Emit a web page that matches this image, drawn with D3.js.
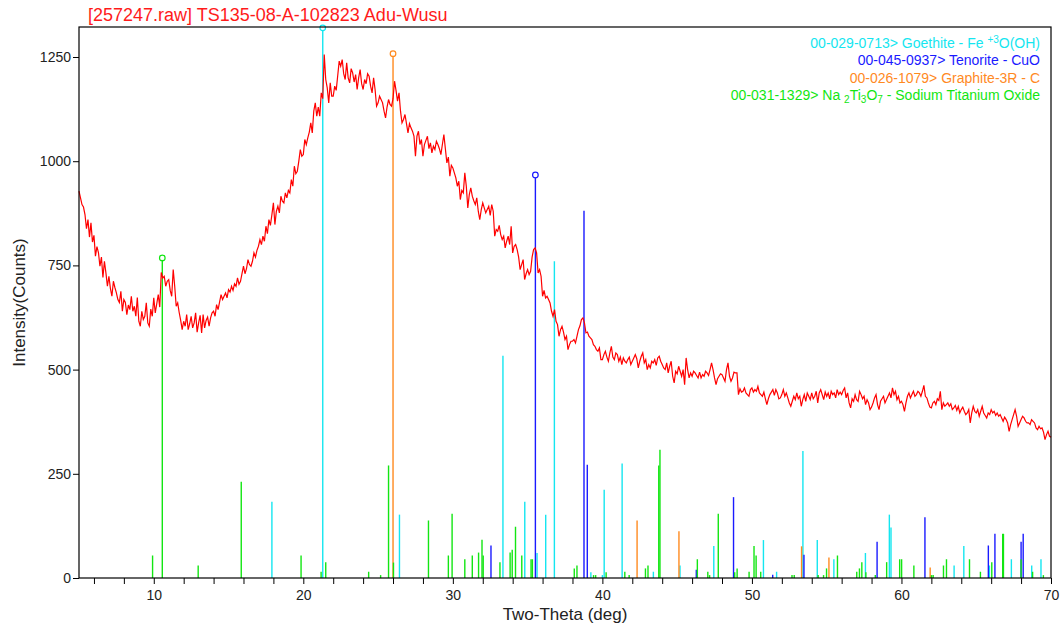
<!DOCTYPE html>
<html>
<head>
<meta charset="utf-8">
<script src="https://cdn.jsdelivr.net/npm/d3@7"></script>
<style>
	body { margin: 0; background: #fff; }
	svg { display: block; font-family: "Liberation Sans", Arial, sans-serif; }
	.axis text { font-size: 14px; fill: #222; }
	.legend text { font-size: 14px; }
</style>
</head>
<body>
<svg id="chart" width="1063" height="628"></svg>
<script>
const width = 1063,
	height = 628;

const titleText = "[257247.raw] TS135-08-A-102823 Adu-Wusu";
const xLabel = "Two-Theta (deg)",
	yLabel = "Intensity(Counts)";

// scan, 5.0 to 70.0 deg in 0.1 deg steps (one row per degree)
const thetaStart = 5,
	thetaStep = 0.1;
const counts = [
	928, 912, 896, 890, 872, 838, 860, 818, 852, 806,
	822, 772, 795, 781, 748, 770, 721, 760, 732, 700,
	724, 695, 676, 712, 697, 684, 668, 661, 688, 640,
	668, 661, 632, 655, 644, 676, 640, 652, 628, 673,
	616, 604, 640, 620, 628, 660, 612, 604, 645, 628,
	672, 636, 658, 680, 650, 733, 720, 724, 700, 712,
	716, 690, 676, 740, 700, 652, 660, 637, 618, 596,
	616, 604, 632, 596, 610, 628, 600, 612, 636, 590,
	612, 630, 588, 632, 600, 618, 626, 604, 624, 636,
	640, 628, 656, 644, 662, 680, 668, 676, 684, 672,
	692, 686, 700, 690, 706, 700, 720, 705, 712, 730,
	748, 730, 742, 764, 752, 748, 760, 780, 770, 786,
	796, 812, 800, 820, 808, 844, 826, 860, 846, 872,
	900, 848, 880, 892, 876, 916, 904, 900, 924, 912,
	930, 924, 956, 940, 988, 970, 976, 1000, 1028, 1012,
	1016, 1052, 1040, 1056, 1070, 1092, 1068, 1120, 1140, 1108,
	1130, 1108, 1164, 1150, 1256, 1196, 1176, 1140, 1188, 1156,
	1156, 1180, 1170, 1205, 1240, 1228, 1244, 1210, 1196, 1236,
	1200, 1188, 1222, 1212, 1190, 1208, 1172, 1200, 1220, 1186,
	1172, 1196, 1186, 1210, 1204, 1180, 1164, 1200, 1172, 1132,
	1140, 1156, 1148, 1140, 1120, 1104, 1130, 1148, 1136, 1132,
	1150, 1192, 1170, 1144, 1164, 1120, 1092, 1100, 1112, 1090,
	1068, 1090, 1080, 1072, 1060, 1012, 1060, 1072, 1040, 1052,
	1012, 1040, 1050, 1060, 1030, 1044, 1020, 1036, 1028, 1048,
	1040, 1030, 1016, 1040, 1064, 1030, 996, 1010, 964, 990,
	984, 972, 960, 940, 952, 908, 930, 924, 972, 940,
	888, 920, 936, 916, 905, 896, 912, 880, 860, 884,
	900, 888, 876, 884, 892, 870, 896, 880, 820, 836,
	832, 846, 824, 812, 820, 792, 808, 820, 800, 844,
	780, 796, 800, 788, 770, 740, 752, 764, 716, 730,
	740, 728, 736, 770, 788, 792, 780, 732, 740, 724,
	676, 690, 672, 676, 668, 660, 640, 628, 644, 616,
	608, 580, 596, 604, 590, 572, 580, 548, 560, 568,
	568, 572, 564, 580, 596, 605, 620, 624, 612, 588,
	590, 580, 576, 572, 560, 556, 548, 544, 552, 524,
	524, 536, 544, 530, 520, 540, 556, 530, 524, 540,
	536, 520, 530, 512, 528, 520, 516, 524, 530, 512,
	520, 528, 536, 526, 504, 520, 532, 540, 516, 524,
	500, 512, 504, 520, 516, 524, 510, 528, 532, 520,
	512, 504, 500, 516, 492, 508, 520, 484, 468, 496,
	490, 508, 496, 484, 500, 464, 528, 500, 480, 492,
	484, 496, 492, 486, 480, 494, 480, 488, 484, 496,
	492, 486, 500, 516, 500, 480, 464, 478, 484, 490,
	488, 480, 472, 500, 516, 484, 472, 480, 494, 492,
	492, 440, 454, 446, 448, 456, 444, 440, 436, 452,
	456, 446, 452, 448, 460, 444, 440, 436, 446, 430,
	416, 430, 440, 446, 452, 438, 452, 444, 430, 432,
	440, 452, 436, 444, 432, 420, 412, 424, 436, 428,
	444, 430, 436, 412, 428, 440, 424, 444, 436, 428,
	444, 430, 436, 448, 420, 444, 452, 440, 428, 446,
	436, 444, 430, 448, 440, 444, 432, 452, 440, 446,
	440, 450, 456, 432, 444, 420, 408, 430, 424, 440,
	428, 424, 448, 440, 430, 436, 416, 428, 420, 404,
	410, 420, 432, 440, 416, 404, 424, 430, 436, 420,
	428, 436, 444, 432, 456, 440, 448, 428, 436, 420,
	424, 416, 400, 420, 436, 444, 432, 440, 448, 436,
	440, 448, 444, 436, 448, 462, 436, 432, 420, 410,
	408, 420, 424, 416, 430, 426, 448, 404, 420, 412,
	416, 420, 412, 418, 404, 408, 414, 402, 412, 396,
	404, 410, 400, 392, 396, 404, 372, 396, 412, 400,
	396, 404, 388, 400, 412, 396, 390, 384, 396, 392,
	404, 396, 400, 390, 396, 388, 392, 384, 376, 386,
	380, 372, 352, 368, 380, 392, 404, 388, 364, 372,
	380, 388, 384, 376, 372, 372, 368, 380, 376, 372,
	360, 356, 364, 358, 360, 350, 332, 344, 352, 340,
	338
];

// reference patterns: [two-theta, height]
const goethite = [
	[17.9, 183], [21.3, 1320], [26.43, 152], [33.35, 533], [34.81, 183], [35.63, 60],
	[36.21, 152], [36.79, 760], [39.23, 14], [40.0, 7], [40.12, 212], [41.32, 275],
	[43.41, 15], [45.19, 30], [47.45, 77], [50.77, 91], [51.65, 15], [53.41, 305],
	[54.37, 91], [55.48, 45], [57.59, 60], [59.19, 152], [59.3, 121], [63.52, 30],
	[64.17, 77], [65.88, 30], [67.35, 45], [68.71, 30], [69.33, 45]
];
const tenorite = [
	[32.55, 78], [35.52, 967], [38.77, 881], [38.99, 272], [46.28, 20], [48.77, 194],
	[51.39, 8], [53.48, 56], [58.37, 87], [61.57, 146], [65.81, 78], [66.25, 106],
	[68.0, 87], [68.14, 106]
];
const graphite = [
	[26.0, 1258], [42.32, 138], [45.12, 112], [53.32, 76], [55.15, 49], [61.92, 25]
];
const sodiumTitanate = [
	[9.92, 54], [10.57, 768], [12.97, 30], [15.85, 231], [19.85, 54], [21.19, 15],
	[21.5, 38], [24.37, 15], [25.17, 7], [25.7, 270], [26.03, 37], [28.37, 138],
	[29.7, 54], [29.95, 154], [30.8, 45], [31.3, 54], [31.72, 61], [31.95, 92],
	[32.03, 54], [33.15, 38], [33.83, 61], [33.97, 68], [34.19, 123], [34.61, 54],
	[35.23, 45], [35.32, 45], [38.12, 23], [38.3, 30], [39.41, 7], [39.55, 7],
	[40.25, 14], [41.5, 15], [41.79, 7], [42.88, 23], [43.05, 30], [43.77, 270],
	[43.85, 308], [46.35, 45], [47.05, 15], [47.17, 7], [47.75, 154], [48.85, 14],
	[49.01, 23], [49.81, 15], [50.14, 77], [50.28, 54], [50.59, 15], [52.68, 7],
	[52.83, 7], [54.43, 7], [54.79, 7], [54.99, 23], [55.72, 54], [57.01, 15],
	[57.19, 23], [57.35, 38], [57.62, 14], [58.25, 7], [59.01, 38], [59.88, 45],
	[60.01, 45], [60.83, 30], [62.01, 7], [62.12, 7], [62.81, 30], [63.01, 45],
	[64.55, 45], [65.28, 15], [66.04, 38], [66.77, 106], [66.82, 106], [68.0, 45],
	[68.77, 15], [69.49, 7]
];

const yTicks = [0, 250, 500, 750, 1000, 1250];
const xTicks = [10, 20, 30, 40, 50, 60, 70];

const phases = [
	{name: "goethite", sticks: goethite, color: "#14e6f0"},
	{name: "tenorite", sticks: tenorite, color: "#1a1aff"},
	{name: "graphite", sticks: graphite, color: "#ff8a1f"},
	{name: "natio", sticks: sodiumTitanate, color: "#12e612"}
];

const plot = {left: 79, right: 1051, top: 27, bottom: 578};

const xScale = d3.scaleLinear()
	.domain([5, 70])
	.range([plot.left, plot.right]);

const yScale = d3.scaleLinear()
	.domain([0, 1322])
	.range([plot.bottom, plot.top]);

const line = d3.line()
	.x(d => xScale(d.x))
	.y(d => yScale(d.y));

const chart = d3.select("#chart");

function drawSticks() {
	phases.forEach(p => {
		const top = d3.max(p.sticks, d => d[1]);
		const g = chart.append("g").attr("class", "sticks " + p.name);

		g.selectAll("line")
			.data(p.sticks)
			.join("line")
			.attr("x1", d => xScale(d[0]))
			.attr("x2", d => xScale(d[0]))
			.attr("y1", yScale(0))
			.attr("y2", d => yScale(d[1]))
			.attr("stroke", p.color)
			.attr("stroke-width", 1.4);

		g.selectAll("circle")
			.data(p.sticks.filter(d => d[1] === top))
			.join("circle")
			.attr("cx", d => xScale(d[0]))
			.attr("cy", d => yScale(d[1]))
			.attr("r", 2.8)
			.attr("fill", "white")
			.attr("stroke", p.color)
			.attr("stroke-width", 1.2);
	});
}

function drawScan() {
	const data = counts.map((c, i) => ({x: thetaStart + i * thetaStep, y: c}));

	chart.append("path")
		.datum(data)
		.attr("fill", "none")
		.attr("stroke", "#ff0000")
		.attr("stroke-width", 1.2)
		.attr("d", line);
}

function drawAxes() {
	const xAxis = d3.axisBottom(xScale)
		.tickValues(d3.range(6, 70.1, 2))
		.tickSize(6)
		.tickFormat(d => xTicks.includes(d) ? d : "");

	chart.append("g")
		.attr("class", "axis")
		.attr("transform", `translate(0,${plot.bottom})`)
		.call(xAxis)
		.call(g => g.select(".domain").remove())
		.call(g => g.selectAll("text").attr("dy", "0.9em"));

	const yAxis = d3.axisLeft(yScale)
		.tickValues(yTicks)
		.tickFormat(d3.format("d"))
		.tickSize(6);

	chart.append("g")
		.attr("class", "axis")
		.attr("transform", `translate(${plot.left},0)`)
		.call(yAxis)
		.call(g => g.select(".domain").remove())
		.call(g => g.selectAll("text").attr("x", -8));

	// frame
	chart.append("rect")
		.attr("x", plot.left)
		.attr("y", plot.top)
		.attr("width", plot.right - plot.left)
		.attr("height", plot.bottom - plot.top)
		.attr("fill", "none")
		.attr("stroke", "black")
		.attr("stroke-width", 1.2);

	chart.append("text")
		.attr("x", (plot.left + plot.right) / 2)
		.attr("y", 620)
		.attr("text-anchor", "middle")
		.attr("font-size", 17)
		.attr("fill", "#222")
		.text(xLabel);

	chart.append("text")
		.attr("transform", `translate(25,${(plot.top + plot.bottom) / 2}) rotate(-90)`)
		.attr("text-anchor", "middle")
		.attr("font-size", 17)
		.attr("fill", "#222")
		.text(yLabel);

	chart.append("text")
		.attr("x", 88)
		.attr("y", 21)
		.attr("font-size", 18)
		.attr("fill", "#ff1a1a")
		.text(titleText);
}

function drawLegend() {
	const entries = [
		[{t: "00-029-0713> Goethite - Fe "}, {t: "+3", sup: true}, {t: "O(OH)"}],
		[{t: "00-045-0937> Tenorite - CuO"}],
		[{t: "00-026-1079> Graphite-3R - C"}],
		[{t: "00-031-1329> Na "}, {t: "2", sub: true}, {t: "Ti"}, {t: "3", sub: true}, {t: "O"}, {t: "7", sub: true}, {t: " - Sodium Titanium Oxide"}]
	];

	const g = chart.append("g").attr("class", "legend");

	entries.forEach((parts, i) => {
		const text = g.append("text")
			.attr("x", 1040)
			.attr("y", 48 + i * 17.3)
			.attr("text-anchor", "end")
			.attr("fill", phases[i].color);

		parts.forEach((p, j) => {
			const span = text.append("tspan").text(p.t);
			const prev = parts[j - 1];
			if (p.sup) span.attr("font-size", 10).attr("dy", -5);
			else if (p.sub) span.attr("font-size", 10).attr("dy", 3);
			else if (prev && prev.sup) span.attr("dy", 5);
			else if (prev && prev.sub) span.attr("dy", -3);
		});
	});
}

drawSticks();
drawScan();
drawAxes();
drawLegend();
</script>
</body>
</html>
